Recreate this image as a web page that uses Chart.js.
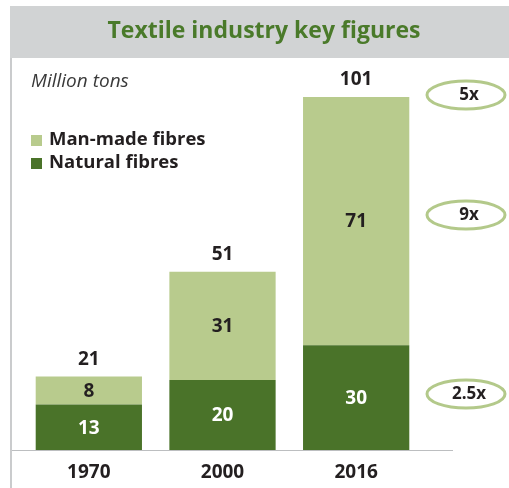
<!DOCTYPE html>
<html>
<head>
<meta charset="utf-8">
<script src="https://cdn.jsdelivr.net/npm/chart.js@4"></script>
<style>
  html, body { margin: 0; padding: 0; background: #fff; }
  #wrap { width: 509px; height: 488px; position: relative; }
</style>
</head>
<body>
<div id="wrap"><canvas id="chart" width="509" height="488"></canvas></div>
<script>
// chart data
const years = ["1970", "2000", "2016"];
const naturalFibres = [13, 20, 30];
const manMadeFibres = [8, 31, 71];
const totals = [21, 51, 101];
const growthLabels = ["5x", "9x", "2.5x"];

const darkGreen = "#4a7329";
const lightGreen = "#b8cb8d";
const textDark = "#231f20";
const FONT = "'Open Sans', Lato, sans-serif";

// header, legend, value labels and growth ellipses
const decorations = {
  id: "decorations",
  beforeDraw(chart) {
    const ctx = chart.ctx;
    ctx.save();
    ctx.fillStyle = "#d1d3d4";
    ctx.fillRect(10, 6, 499, 52);
    ctx.strokeStyle = "#a7a9ac";
    ctx.lineWidth = 1.2;
    ctx.beginPath();
    ctx.moveTo(11, 58);
    ctx.lineTo(11, 488);
    ctx.stroke();
    ctx.restore();
  },
  afterDraw(chart) {
    const ctx = chart.ctx;
    const area = chart.chartArea;
    ctx.save();

    // title
    ctx.fillStyle = "#4a7a2a";
    ctx.font = "bold 23px " + FONT;
    ctx.textAlign = "center";
    ctx.textBaseline = "middle";
    ctx.fillText("Textile industry key figures", 264, 31);

    // unit
    ctx.fillStyle = "#3a3a3a";
    ctx.font = "italic 19px " + FONT;
    ctx.textAlign = "left";
    ctx.fillText("Million tons", 31, 82);

    // legend
    const legendItems = [
      { label: chart.data.datasets[1].label, color: lightGreen, y: 140 },
      { label: chart.data.datasets[0].label, color: darkGreen, y: 163 }
    ];
    ctx.font = "bold 18.5px " + FONT;
    legendItems.forEach(item => {
      ctx.fillStyle = item.color;
      ctx.fillRect(31, item.y - 5, 11, 11);
      ctx.fillStyle = textDark;
      ctx.fillText(item.label, 49, item.y);
    });

    // baseline
    ctx.strokeStyle = "#bcbec0";
    ctx.lineWidth = 1;
    ctx.beginPath();
    ctx.moveTo(12, area.bottom + 0.5);
    ctx.lineTo(453, area.bottom + 0.5);
    ctx.stroke();

    // segment labels
    ctx.textAlign = "center";
    ctx.font = "bold 19px " + FONT;
    chart.data.datasets.forEach((ds, di) => {
      const meta = chart.getDatasetMeta(di);
      meta.data.forEach((bar, i) => {
        const cy = (bar.y + bar.base) / 2;
        ctx.fillStyle = di === 0 ? "#ffffff" : textDark;
        ctx.fillText(String(ds.data[i]), bar.x, cy + 1);
      });
    });

    // totals
    const topMeta = chart.getDatasetMeta(1);
    topMeta.data.forEach((bar, i) => {
      ctx.fillStyle = textDark;
      ctx.fillText(String(totals[i]), bar.x, bar.y - 17);
    });

    // growth ellipses beside the last bar
    const ellipseY = [95, 215, 394];
    ellipseY.forEach((y, i) => {
      ctx.strokeStyle = "#b3c98a";
      ctx.lineWidth = 3;
      ctx.beginPath();
      ctx.ellipse(466, y, 39, 14, 0, 0, Math.PI * 2);
      ctx.stroke();
      ctx.fillStyle = textDark;
      ctx.font = "bold 17px " + FONT;
      ctx.fillText(growthLabels[i], 469, y);
    });

    ctx.restore();
  }
};

new Chart(document.getElementById("chart"), {
  type: "bar",
  data: {
    labels: years,
    datasets: [
      { label: "Natural fibres", data: naturalFibres, backgroundColor: darkGreen },
      { label: "Man-made fibres", data: manMadeFibres, backgroundColor: lightGreen }
    ]
  },
  options: {
    responsive: false,
    animation: false,
    layout: { padding: { left: 22, right: 86, top: 97, bottom: 0 } },
    datasets: { bar: { barPercentage: 1, categoryPercentage: 0.795 } },
    plugins: { legend: { display: false }, tooltip: { enabled: false } },
    scales: {
      x: {
        stacked: true,
        grid: { display: false },
        border: { display: false },
        ticks: { color: textDark, font: { family: FONT, size: 19, weight: "bold" }, padding: 3 },
        afterFit(scale) { scale.height = 38; }
      },
      y: {
        stacked: true,
        display: false,
        min: 0,
        max: 101
      }
    }
  },
  plugins: [decorations]
});
</script>
</body>
</html>
